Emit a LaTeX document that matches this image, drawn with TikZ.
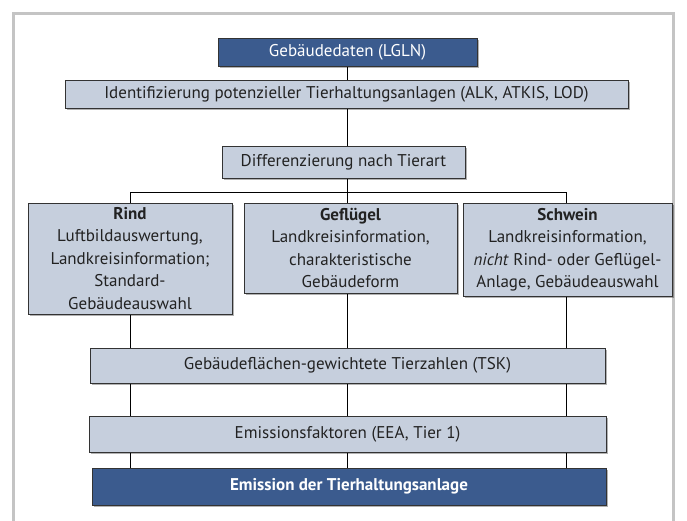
\documentclass[tikz,border=0pt]{standalone}
\usepackage{fontspec}
\setmainfont{PT Sans}
\usetikzlibrary{shadows}
\definecolor{darkbox}{HTML}{3B5B8E}
\definecolor{lightbox}{HTML}{C6CFDD}
\definecolor{framegrey}{HTML}{C4C4C4}
\definecolor{txt}{HTML}{222222}
\begin{document}
\begin{tikzpicture}[x=1pt,y=-1pt,
  box/.style={draw=black!80, line width=0.8pt, fill=lightbox, inner sep=0pt, align=center, text=txt,
    font=\fontsize{17}{22.5}\selectfont,
    drop shadow={shadow xshift=2pt, shadow yshift=-2pt, fill=black, opacity=0.3}},
  darkb/.style={box, fill=darkbox, text=white},
  conn/.style={draw=black, line width=0.8pt}]
\useasboundingbox (0,0) rectangle (687,520);
\draw[framegrey, line width=3pt] (13,13) rectangle (673,530);

\coordinate (hub) at (347,192);
\coordinate (hl) at (130,192);
\coordinate (hr) at (566,192);

% connectors first (behind boxes)
\draw[conn] (347,66) -- (347,146);
\draw[conn] (347,178) -- (hub);
\draw[conn] (hl) -- (hr);
\foreach \x in {130,347,566} { \draw[conn] (\x,192) -- (\x,486); }

\node[darkb, minimum width=259pt, minimum height=28pt] (top) at (347.5,52) {Gebäudedaten (LGLN)};
\node[box, minimum width=563pt, minimum height=28pt] (ident) at (346.5,94) {Identifizierung potenzieller Tierhaltungsanlagen (ALK, ATKIS, LOD)};
\node[box, minimum width=243pt, minimum height=32pt] (diff) at (343.5,162) {Differenzierung nach Tierart};
\node[box, minimum width=204pt, minimum height=111pt] (rind) at (130,258.5) {\textbf{Rind}\\Luftbildauswertung,\\Landkreisinformation;\\Standard-\\Gebäudeauswahl};
\node[box, minimum width=213pt, minimum height=90pt] (gefl) at (350.5,248) {\textbf{Geflügel}\\Landkreisinformation,\\charakteristische\\Gebäudeform};
\node[box, minimum width=209pt, minimum height=93pt] (schw) at (567.5,249.5) {\textbf{Schwein}\\Landkreisinformation,\\\textit{nicht} Rind- oder Geflügel-\\Anlage, Gebäudeauswahl};
\node[box, minimum width=515pt, minimum height=35pt] (tsk) at (347.5,365.5) {Gebäudeflächen-gewichtete Tierzahlen (TSK)};
\node[box, minimum width=517pt, minimum height=36pt] (eea) at (347.5,434) {Emissionsfaktoren (EEA, Tier 1)};
\node[darkb, minimum width=514pt, minimum height=37pt, font=\fontsize{17}{22.5}\selectfont\bfseries] (emis) at (349,486.5) {Emission der Tierhaltungsanlage};
\end{tikzpicture}
\end{document}
